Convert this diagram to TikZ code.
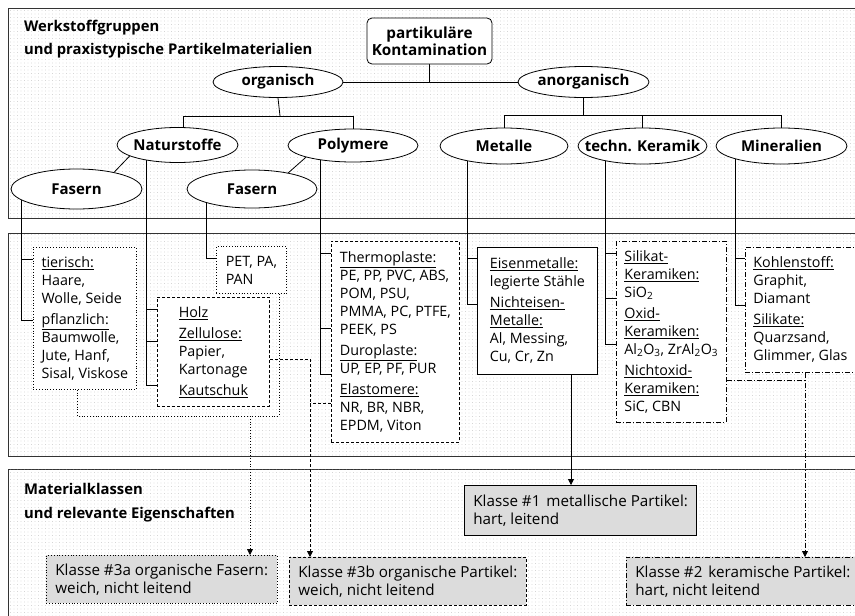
\documentclass[tikz,border=0pt]{standalone}
\usepackage{fontspec}
\setmainfont{Open Sans}
\usetikzlibrary{shapes.geometric,arrows.meta,calc,patterns.meta}
\pgfdeclarelayer{back}
\pgfdeclarelayer{background}
\pgfsetlayers{back,background,main}
\definecolor{klassgray}{HTML}{DCDCDC}
\tikzset{
  panel/.style={draw=black!80, line width=1pt, fill=white,
    postaction={pattern={Dots[distance=3.5pt,radius=0.45pt]}, pattern color=black!25}},
  ell/.style={ellipse, draw, fill=white, line width=0.8pt, inner sep=0pt,
    font=\fontsize{15}{17}\selectfont\bfseries},
  rootbox/.style={rectangle, rounded corners=5pt, draw, fill=white, line width=0.8pt,
    inner sep=0pt, align=center, font=\fontsize{15.3}{17}\selectfont\bfseries},
  listbox/.style={rectangle, fill=white, line width=0.8pt, anchor=north west,
    inner xsep=8pt, inner ysep=0pt, align=left,
    font=\fontsize{14.3}{18}\selectfont},
  klasse/.style={rectangle, fill=klassgray, line width=0.8pt, anchor=north west,
    inner xsep=9pt, inner ysep=0pt, align=left,
    font=\fontsize{15.2}{18}\selectfont},
  dotbox/.style={draw, dotted},
  dashbox/.style={draw, dash pattern=on 3pt off 2pt},
  dashdotbox/.style={draw, dash pattern=on 5pt off 2pt on 1pt off 2pt},
  conn/.style={draw, line width=0.8pt},
  tip/.style={-{Triangle[length=6pt,width=6pt]}},
  heading/.style={anchor=west, align=left, inner sep=0pt,
    font=\fontsize{14.8}{23.5}\selectfont\bfseries},
}
\newcommand{\hd}[1]{\underline{#1}}
% ellipse labels are boxed at zero width so the ellipse keeps its set size
\newcommand{\elab}[1]{\makebox[0pt][c]{#1}}
\begin{document}
\begin{tikzpicture}[x=1pt,y=-1pt]
\useasboundingbox (0,0) rectangle (855,616);
\clip (0,0) rectangle (855,616);

% three panels
\begin{pgfonlayer}{back}
  \path[panel] (8,8) rectangle (870,218);
  \path[panel] (8,233) rectangle (870,456);
  \path[panel] (8,469) rectangle (870,640);
\end{pgfonlayer}

% headings of the panels
\node[heading] (head1) at (24,39) {Werkstoffgruppen\\und praxistypische Partikelmaterialien};
\node[heading] (head2) at (24,502.5) {Materialklassen\\und relevante Eigenschaften};

% classification tree
\node[rootbox, minimum width=125pt, minimum height=46pt] (root) at (429.5,41) {partikuläre\\Kontamination};
\node[ell, minimum width=130pt, minimum height=31pt] (org) at (278,82) {\elab{organisch}};
\node[ell, minimum width=131pt, minimum height=31pt] (anorg) at (583.5,82) {\elab{anorganisch}};
\node[ell, minimum width=121pt, minimum height=35pt] (nat) at (177.5,145) {\elab{Naturstoffe}};
\node[ell, minimum width=130pt, minimum height=33pt] (poly) at (353,145.5) {\elab{Polymere}};
\node[ell, minimum width=131pt, minimum height=40pt] (fas1) at (76.5,189) {\elab{Fasern}};
\node[ell, minimum width=130pt, minimum height=38pt] (fas2) at (252,189) {\elab{Fasern}};
\node[ell, minimum width=128pt, minimum height=36pt] (met) at (504,146) {\elab{Metalle}};
\node[ell, minimum width=129pt, minimum height=36pt] (ker) at (642.5,146) {\elab{techn. Keramik}};
\node[ell, minimum width=131pt, minimum height=36pt] (mine) at (781.5,146) {\elab{Mineralien}};

% material lists
\node[listbox, dotbox, minimum width=103pt, minimum height=142pt] (tier) at (33,247)
  {\hd{tierisch:}\\Haare,\\Wolle, Seide\\[3pt]\hd{pflanzlich:}\\Baumwolle,\\Jute, Hanf,\\Sisal, Viskose};
\node[listbox, dashbox, minimum width=112pt, minimum height=109pt] (holz) at (157,297)
  {\hd{Holz}\\[3pt]\hd{Zellulose:}\\Papier,\\Kartonage\\[3pt]\hd{Kautschuk}};
\node[listbox, dotbox, minimum width=70pt, minimum height=47pt] (pet) at (216,246)
  {PET, PA,\\PAN};
\node[listbox, dashbox, minimum width=128pt, minimum height=201pt] (polyb) at (331,241)
  {\hd{Thermoplaste:}\\PE, PP, PVC, ABS,\\POM, PSU,\\PMMA, PC, PTFE,\\PEEK, PS\\[3pt]\hd{Duroplaste:}\\UP, EP, PF, PUR\\[3pt]\hd{Elastomere:}\\NR, BR, NBR,\\EPDM, Viton};
\node[listbox, draw, minimum width=120pt, minimum height=127pt] (metb) at (477,247)
  {\hd{Eisenmetalle:}\\legierte Stähle\\[3pt]\hd{Nichteisen-}\\\hd{Metalle:}\\Al, Messing,\\Cu, Cr, Zn};
\node[listbox, dashdotbox, minimum width=109pt, minimum height=181pt] (kerb) at (616,241)
  {\hd{Silikat-}\\\hd{Keramiken:}\\SiO\textsubscript{2}\\[3pt]\hd{Oxid-}\\\hd{Keramiken:}\\Al\textsubscript{2}O\textsubscript{3}, ZrAl\textsubscript{2}O\textsubscript{3}\\[3pt]\hd{Nichtoxid-}\\\hd{Keramiken:}\\SiC, CBN};
\node[listbox, dashdotbox, minimum width=108pt, minimum height=125pt] (minb) at (745,247)
  {\hd{Kohlenstoff:}\\Graphit,\\Diamant\\[3pt]\hd{Silikate:}\\Quarzsand,\\Glimmer, Glas};

% material classes
\node[klasse, dotbox, minimum width=230pt, minimum height=48pt] (k3a) at (46,555)
  {Klasse \#3a organische Fasern:\\weich, nicht leitend};
\node[klasse, dashbox, minimum width=233pt, minimum height=48pt] (k3b) at (289,557)
  {Klasse \#3b organische Partikel:\\weich, nicht leitend};
\node[klasse, draw, minimum width=224pt, minimum height=50pt] (k1) at (464,485)
  {Klasse \#1\hspace{2pt} metallische Partikel:\\hart, leitend};
\node[klasse, dashdotbox, minimum width=225pt, minimum height=48pt] (k2) at (626,557)
  {Klasse \#2\hspace{2pt} keramische Partikel:\\hart, nicht leitend};

% connectors
\begin{pgfonlayer}{background}
  % tree
  \draw[conn] (root.south) -- (root.south |- org.east);
  \draw[conn] (org.east) -- (anorg.west);
  \coordinate (ob) at ($(org.south)+(2,18)$);
  \draw[conn] (org.south) -- (ob);
  \draw[conn] ($(nat.north)+(5.5,0)$) |- (ob) -| (poly.north);
  \coordinate (ab) at ($(anorg.south)+(0,17)$);
  \draw[conn] (anorg.south) -- (ab);
  \draw[conn] (met.north) |- (ab) -| (mine.north);
  \draw[conn] (ker.north) -- (ker.north |- ab);
  \draw[conn] (nat.193) -- (fas1.24);
  \draw[conn] (poly.194) -- (fas2.24);
  % branches into the lists
  \draw[conn] ($(fas1.center)+(-55.5,0)$) |- ($(tier.north west)+(0,73)$);
  \draw[conn] ($(tier.north west)+(0,12)$) -| ($(fas1.center)+(-55.5,0)$);
  \draw[conn] ($(nat.center)+(-31.5,0)$) |- ($(holz.north west)+(0,88)$);
  \draw[conn] ($(holz.north west)+(0,12)$) -| ($(nat.center)+(-31.5,0)$);
  \draw[conn] ($(holz.north west)+(0,44)$) -| ($(nat.center)+(-31.5,0)$);
  \draw[conn] ($(fas2.center)+(-46,0)$) |- ($(pet.north west)+(0,12)$);
  \draw[conn] ($(poly.center)+(-33,0)$) |- ($(polyb.north west)+(0,133)$);
  \draw[conn] ($(polyb.north west)+(0,12)$) -| ($(poly.center)+(-33,0)$);
  \draw[conn] ($(polyb.north west)+(0,87)$) -| ($(poly.center)+(-33,0)$);
  \draw[conn] ($(met.center)+(-37,0)$) |- ($(metb.north west)+(0,57)$);
  \draw[conn] ($(metb.north west)+(0,11)$) -| ($(met.center)+(-37,0)$);
  \draw[conn] ($(ker.center)+(-37.5,0)$) |- ($(kerb.north west)+(0,103)$);
  \draw[conn] ($(kerb.north west)+(0,12)$) -| ($(ker.center)+(-37.5,0)$);
  \draw[conn] ($(kerb.north west)+(0,57)$) -| ($(ker.center)+(-37.5,0)$);
  \draw[conn] ($(mine.center)+(-46.5,0)$) |- ($(minb.north west)+(0,58)$);
  \draw[conn] ($(minb.north west)+(0,11)$) -| ($(mine.center)+(-46.5,0)$);
  % lists to material classes
  \coordinate (dotbus) at (250,416);
  \draw[conn, dotted] ($(tier.south west)+(44,0)$) |- (dotbus);
  \draw[conn, dotted] ($(pet.south west)+(63,0)$) |- (dotbus);
  \draw[conn, dotted, tip] (dotbus) -- (dotbus |- k3a.north);
  \coordinate (dashbus) at (310,359);
  \coordinate (dashlow) at (310,403);
  \draw[conn, dash pattern=on 3pt off 2pt] (dashbus -| holz.east) -- (dashbus);
  \draw[conn, dash pattern=on 3pt off 2pt] (dashlow -| polyb.west) -- (dashlow);
  \draw[conn, dash pattern=on 3pt off 2pt, tip] (dashbus) -- (dashbus |- k3b.north);
  \coordinate (metdrop) at ($(metb.south west)+(94,0)$);
  \draw[conn, tip] (metdrop) -- (metdrop |- k1.north);
  \coordinate (ddbus) at (805,380);
  \draw[conn, dash pattern=on 5pt off 2pt on 1pt off 2pt] (ddbus -| kerb.east) -- (ddbus);
  \draw[conn, dash pattern=on 5pt off 2pt on 1pt off 2pt, tip] (ddbus |- minb.south) -- (ddbus |- k2.north);
\end{pgfonlayer}
\end{tikzpicture}
\end{document}
